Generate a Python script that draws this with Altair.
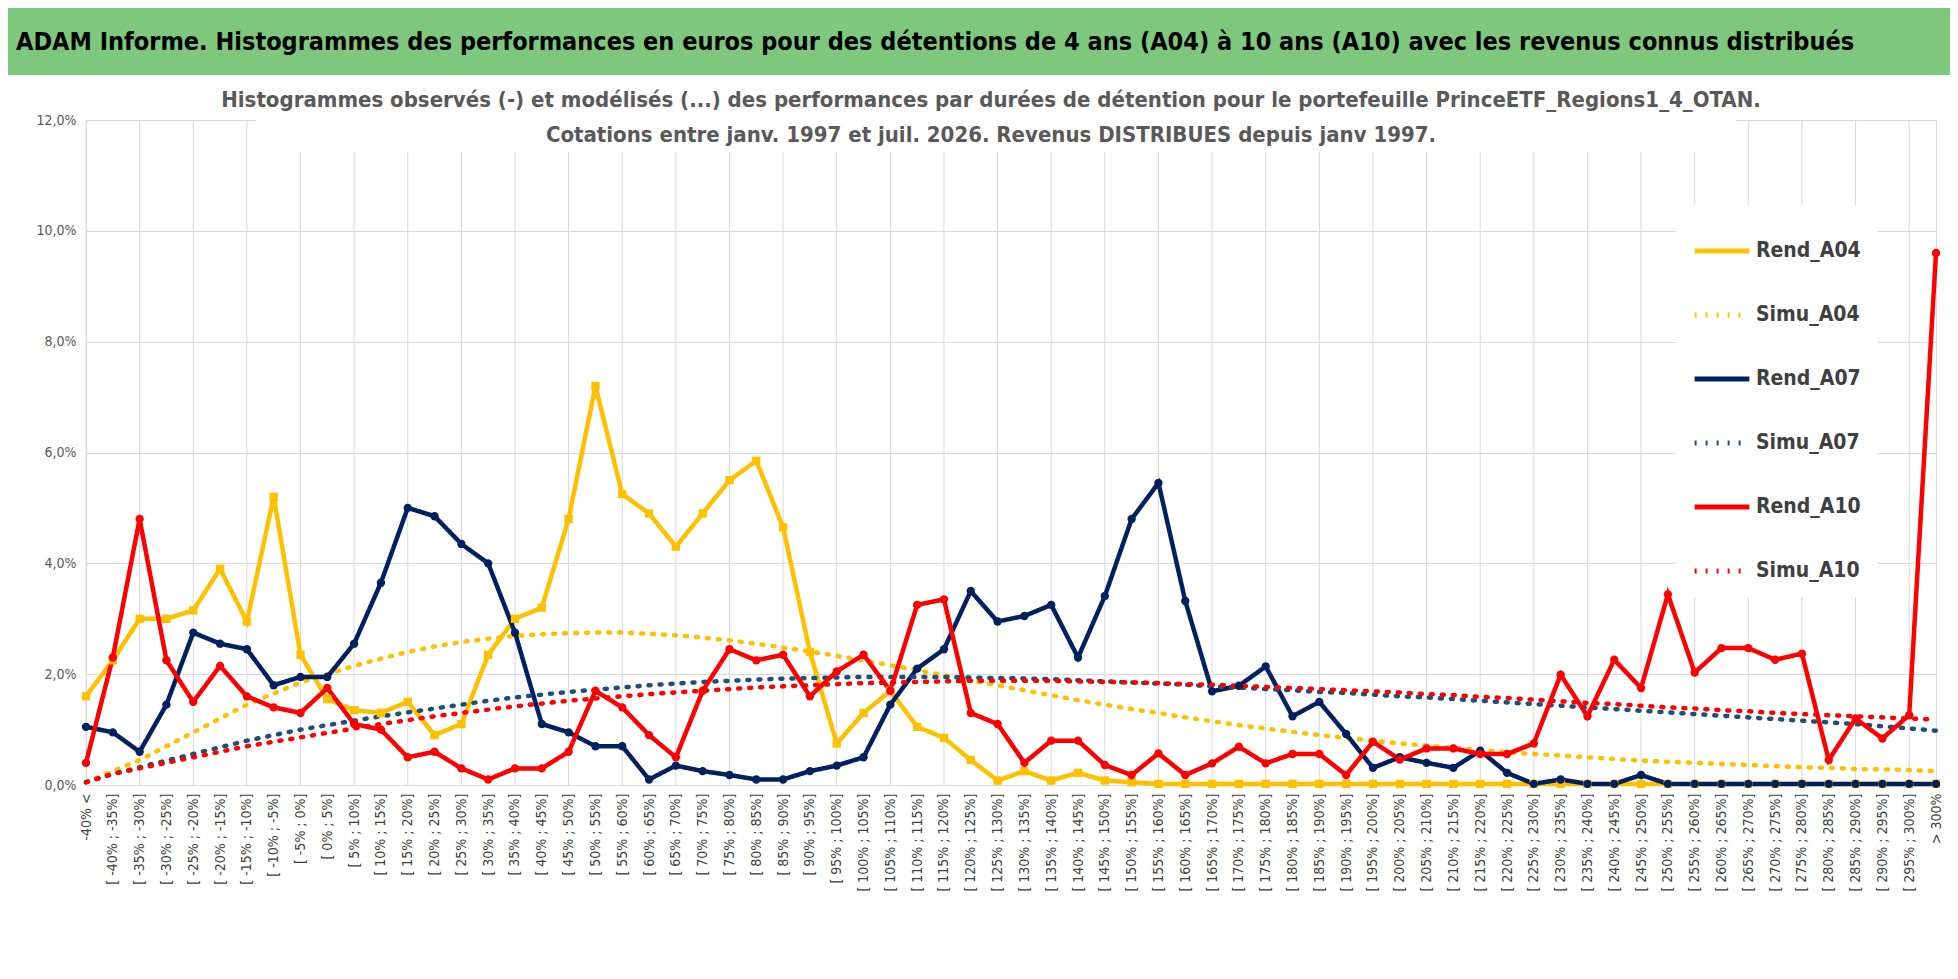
import altair as alt
import pandas as pd

# categories (tick labels)
bornes = list(range(-40, 300, 5))
categories = ["-40% <"] + [f"[ {b}% ; {b + 5}%]" for b in bornes] + ["> 300%"]

rend_a04 = [1.6, 2.25, 3.0, 3.0, 3.15, 3.9, 2.95, 5.2, 2.35, 1.55, 1.35, 1.3, 1.5, 0.9, 1.1, 2.35, 3.0, 3.2, 4.8, 7.2,
            5.25, 4.9, 4.3, 4.9, 5.5, 5.85, 4.65, 2.4, 0.75, 1.3, 1.7, 1.05, 0.85, 0.45, 0.08, 0.25, 0.08, 0.22, 0.08, 0.05,
            0.02, 0.02, 0.02, 0.02, 0.02, 0.02, 0.02, 0.02, 0.02, 0.02, 0.02, 0.02, 0.02, 0.02, 0.02, 0.02, 0.02, 0.02, 0.02, 0.02,
            0.02, 0.02, 0.02, 0.02, 0.02, 0.02, 0.02, 0.02, 0.02, 0.02]
simu_a04 = [0.05, 0.25, 0.45, 0.7, 0.95, 1.2, 1.45, 1.65, 1.85, 2.0, 2.15, 2.28, 2.4, 2.5, 2.58, 2.64, 2.69, 2.72, 2.74, 2.75,
            2.75, 2.73, 2.7, 2.66, 2.61, 2.55, 2.48, 2.41, 2.33, 2.25, 2.16, 2.07, 1.98, 1.89, 1.8, 1.71, 1.62, 1.53, 1.45, 1.37,
            1.3, 1.22, 1.15, 1.08, 1.02, 0.96, 0.9, 0.85, 0.8, 0.75, 0.71, 0.67, 0.63, 0.59, 0.56, 0.53, 0.5, 0.47, 0.44, 0.42,
            0.4, 0.38, 0.36, 0.34, 0.32, 0.31, 0.29, 0.28, 0.27, 0.25]
rend_a07 = [1.05, 0.95, 0.6, 1.45, 2.75, 2.55, 2.45, 1.8, 1.95, 1.95, 2.55, 3.65, 5.0, 4.85, 4.35, 4.0, 2.75, 1.1, 0.95, 0.7,
            0.7, 0.1, 0.35, 0.25, 0.18, 0.1, 0.1, 0.25, 0.35, 0.5, 1.45, 2.1, 2.45, 3.5, 2.95, 3.05, 3.25, 2.3, 3.41, 4.8,
            5.45, 3.32, 1.69, 1.79, 2.14, 1.24, 1.5, 0.92, 0.31, 0.5, 0.4, 0.31, 0.62, 0.22, 0.02, 0.1, 0.02, 0.02, 0.18, 0.02,
            0.02, 0.02, 0.02, 0.02, 0.02, 0.02, 0.02, 0.02, 0.02, 0.02]
simu_a07 = [0.05, 0.2, 0.32, 0.44, 0.56, 0.68, 0.8, 0.9, 1.0, 1.08, 1.16, 1.24, 1.31, 1.38, 1.45, 1.52, 1.58, 1.63, 1.68, 1.72,
            1.76, 1.8, 1.83, 1.86, 1.88, 1.9, 1.92, 1.93, 1.94, 1.95, 1.95, 1.95, 1.95, 1.94, 1.93, 1.92, 1.91, 1.89, 1.87, 1.85,
            1.83, 1.81, 1.78, 1.76, 1.73, 1.71, 1.68, 1.66, 1.63, 1.6, 1.58, 1.55, 1.52, 1.49, 1.46, 1.43, 1.4, 1.37, 1.34, 1.31,
            1.28, 1.25, 1.22, 1.19, 1.16, 1.13, 1.1, 1.06, 1.02, 0.98]
rend_a10 = [0.4, 2.3, 4.8, 2.25, 1.5, 2.15, 1.6, 1.4, 1.3, 1.75, 1.1, 1.0, 0.5, 0.6, 0.3, 0.1, 0.3, 0.3, 0.6, 1.7,
            1.4, 0.9, 0.5, 1.7, 2.45, 2.25, 2.35, 1.6, 2.05, 2.35, 1.7, 3.25, 3.35, 1.3, 1.1, 0.4, 0.8, 0.8, 0.36, 0.18,
            0.57, 0.18, 0.39, 0.69, 0.39, 0.56, 0.56, 0.18, 0.78, 0.46, 0.66, 0.66, 0.56, 0.56, 0.75, 1.99, 1.24, 2.26, 1.75, 3.44,
            2.03, 2.47, 2.47, 2.26, 2.37, 0.45, 1.2, 0.84, 1.26, 9.6]
simu_a10 = [0.05, 0.2, 0.3, 0.4, 0.5, 0.6, 0.7, 0.78, 0.86, 0.94, 1.02, 1.1, 1.17, 1.24, 1.3, 1.36, 1.42, 1.47, 1.52, 1.56,
            1.6, 1.64, 1.67, 1.7, 1.73, 1.76, 1.78, 1.8, 1.82, 1.84, 1.85, 1.86, 1.87, 1.88, 1.88, 1.88, 1.88, 1.87, 1.86, 1.85,
            1.84, 1.82, 1.81, 1.79, 1.77, 1.75, 1.73, 1.71, 1.69, 1.67, 1.64, 1.62, 1.59, 1.57, 1.54, 1.51, 1.48, 1.46, 1.43, 1.4,
            1.38, 1.35, 1.33, 1.3, 1.28, 1.26, 1.24, 1.22, 1.2, 1.18]

series = ["Rend_A04", "Simu_A04", "Rend_A07", "Simu_A07", "Rend_A10", "Simu_A10"]
colors = ["#FFC000", "#FFC000", "#002060", "#1F4E79", "#FF0000", "#FF0000"]
values = [rend_a04, simu_a04, rend_a07, simu_a07, rend_a10, simu_a10]

rows = []
for s, v in zip(series, values):
    for c, y in zip(categories, v):
        rows.append({"cat": c, "val": y, "serie": s, "ordre": series.index(s)})
df = pd.DataFrame(rows)
grid_df = pd.DataFrame({"cat": categories[::2]})

FONT = "DejaVu Sans Condensed, Roboto Condensed, Roboto"
W, H = 1850, 665

x_enc = alt.X("cat:N", sort=categories, scale=alt.Scale(type="point", padding=0),
              axis=alt.Axis(title=None, labelAngle=-90, labelFontSize=14, labelColor="#404040",
                            labelFont=FONT, grid=False, domain=False, ticks=False, labelPadding=8,
                            labelOverlap=False))
y_enc = alt.Y("val:Q", scale=alt.Scale(domain=[0, 12]),
              axis=alt.Axis(title=None, values=[0, 2, 4, 6, 8, 10, 12], grid=True, gridColor="#d9d9d9",
                            domain=False, ticks=False, labelFontSize=14, labelColor="#595959", labelFont=FONT,
                            labelPadding=10,
                            labelExpr="replace(format(datum.value, '.1f'), '.', ',') + '%'"))

vgrid = alt.Chart(grid_df).mark_rule(color="#d9d9d9", strokeWidth=1).encode(x=x_enc)

one = alt.Data(values=[{}])
banner = alt.Chart(one).mark_rect(color="#7DC87D").encode(
    x=alt.value(-78), x2=alt.value(W + 14), y=alt.value(-112), y2=alt.value(-45))
banner_txt = alt.Chart(one).mark_text(align="left", baseline="middle", font=FONT, fontSize=25,
                                      fontWeight="bold", color="#000000").encode(
    x=alt.value(-70), y=alt.value(-78),
    text=alt.value("ADAM Informe. Histogrammes des performances en euros pour des détentions de 4 ans (A04) à 10 ans (A10) avec les revenus connus distribués"))
title_bg = alt.Chart(one).mark_rect(color="white").encode(
    x=alt.value(170), x2=alt.value(1650), y=alt.value(-38), y2=alt.value(32))
title1 = alt.Chart(one).mark_text(align="center", baseline="middle", font=FONT, fontSize=22,
                                  fontWeight="bold", color="#595959").encode(
    x=alt.value(905), y=alt.value(-20),
    text=alt.value("Histogrammes observés (-) et modélisés (...) des performances  par durées de détention pour  le portefeuille PrinceETF_Regions1_4_OTAN."))
title2 = alt.Chart(one).mark_text(align="center", baseline="middle", font=FONT, fontSize=22,
                                  fontWeight="bold", color="#595959").encode(
    x=alt.value(905), y=alt.value(15),
    text=alt.value("Cotations  entre janv. 1997 et juil. 2026. Revenus DISTRIBUES depuis janv 1997."))

lines = alt.Chart(df).mark_line(strokeWidth=4.5, strokeCap="round").encode(
    x=x_enc, y=y_enc,
    color=alt.Color("serie:N", sort=series, scale=alt.Scale(domain=series, range=colors),
                    legend=alt.Legend(title=None, orient="none", legendX=1590, legendY=85,
                                      fillColor="white", padding=16, symbolType="stroke",
                                      symbolSize=3000, symbolStrokeWidth=5, rowPadding=24,
                                      labelFontSize=21, labelFont=FONT, labelColor="#404040",
                                      labelFontWeight="bold")),
    strokeDash=alt.StrokeDash("serie:N", sort=series,
                              scale=alt.Scale(domain=series,
                                              range=[[1, 0], [2, 9], [1, 0], [2, 9], [1, 0], [2, 9]])),
    order=alt.Order("ordre:Q"),
    detail="serie:N")

pts_df = df[df["serie"].str.startswith("Rend")]
points = alt.Chart(pts_df).mark_point(filled=True, opacity=1, size=70).encode(
    x=x_enc, y=y_enc,
    color=alt.Color("serie:N", scale=alt.Scale(domain=series, range=colors), legend=None),
    shape=alt.Shape("serie:N", scale=alt.Scale(domain=["Rend_A04", "Rend_A07", "Rend_A10"],
                                               range=["square", "circle", "circle"]), legend=None))

chart = alt.layer(vgrid, banner, banner_txt, lines, points, title_bg, title1, title2).properties(
    width=W, height=H, padding={"left": 0, "top": 0, "right": 0, "bottom": 0}
).configure_view(stroke=None).configure(background="white")

chart.save("out.html", embed_options={"renderer": "svg", "actions": False})
